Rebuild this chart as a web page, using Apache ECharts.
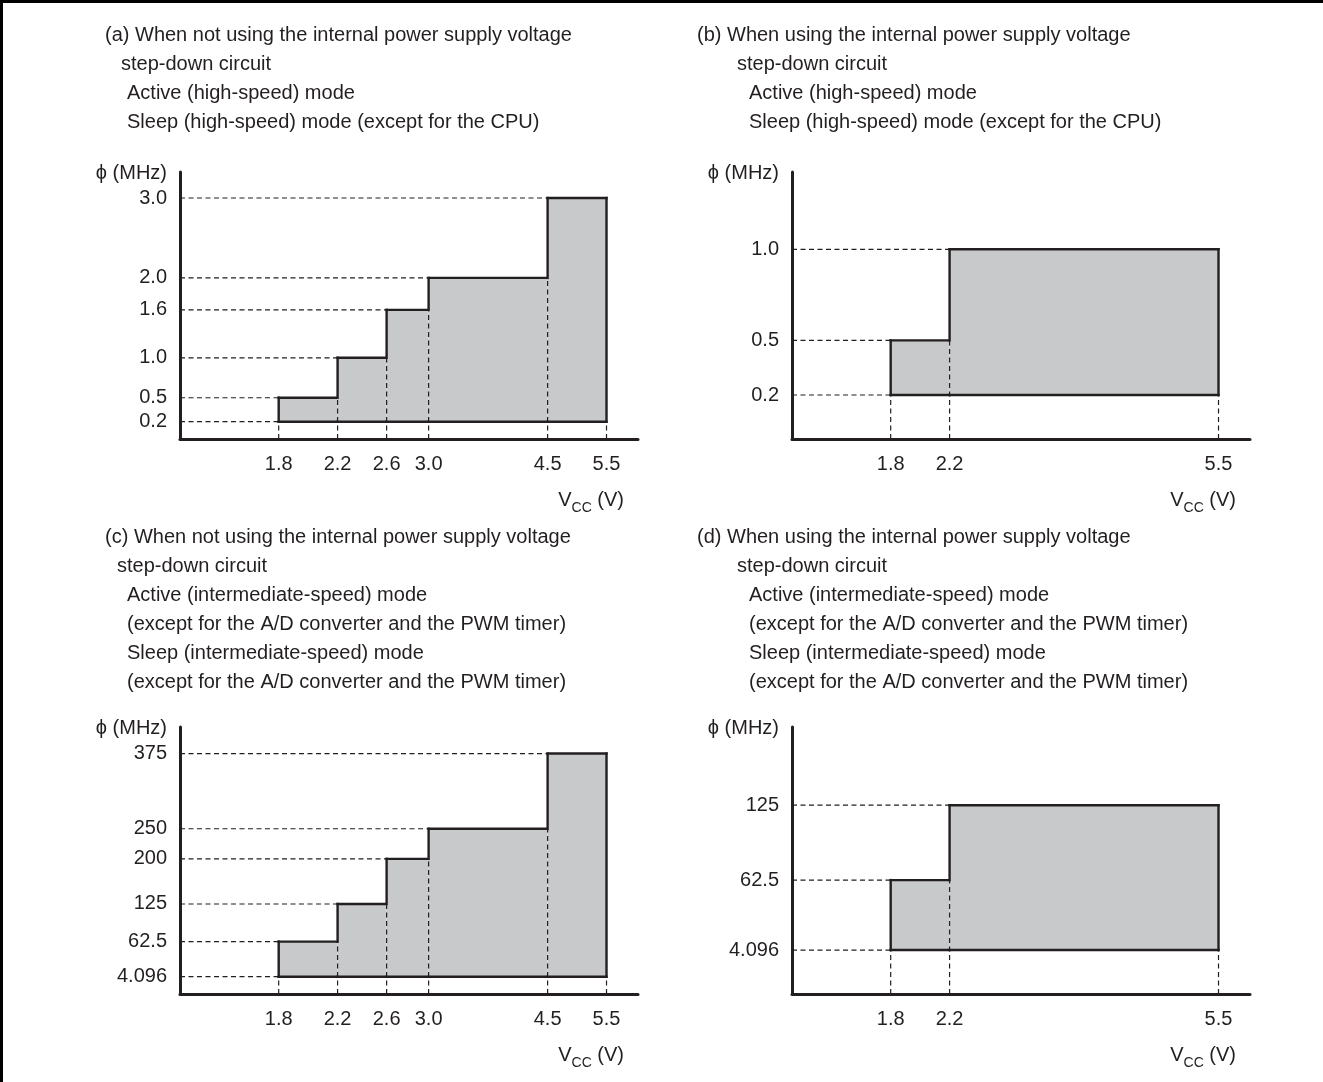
<!DOCTYPE html>
<html>
<head>
<meta charset="utf-8">
<script src="https://cdn.jsdelivr.net/npm/echarts@6/dist/echarts.min.js"></script>
<style>
html,body{margin:0;padding:0;background:#fff;}
#chart{width:1323px;height:1082px;}
</style>
</head>
<body>
<div id="chart"></div>
<script>
// ---------------- data ----------------
const voltsNoReg = [1.8, 2.2, 2.6, 3.0, 4.5, 5.5];   // V_CC breakpoints, panels (a) and (c)
const voltsReg   = [1.8, 2.2, 5.5];                  // V_CC breakpoints, panels (b) and (d)
const freqA = [0.5, 1.0, 1.6, 2.0, 3.0];             // MHz, upper limit per voltage range
const baseA = 0.2;                                   // MHz, lower limit
const freqB = [0.5, 1.0];
const baseB = 0.2;
const freqC = [62.5, 125, 200, 250, 375];
const baseC = 4.096;
const freqD = [62.5, 125];
const baseD = 4.096;
const xTicksNoReg = ['1.8', '2.2', '2.6', '3.0', '4.5', '5.5'];
const xTicksReg   = ['1.8', '2.2', '5.5'];
const yTicksA = ['0.2', '0.5', '1.0', '1.6', '2.0', '3.0'];
const yTicksB = ['0.2', '0.5', '1.0'];
const yTicksC = ['4.096', '62.5', '125', '200', '250', '375'];
const yTicksD = ['4.096', '62.5', '125'];

const headA = ['(a) When not using the internal power supply voltage', 'step-down circuit',
  'Active (high-speed) mode', 'Sleep (high-speed) mode (except for the CPU)'];
const headB = ['(b) When using the internal power supply voltage', 'step-down circuit',
  'Active (high-speed) mode', 'Sleep (high-speed) mode (except for the CPU)'];
const headC = ['(c) When not using the internal power supply voltage', 'step-down circuit',
  'Active (intermediate-speed) mode', '(except for the A/D converter and the PWM timer)',
  'Sleep (intermediate-speed) mode', '(except for the A/D converter and the PWM timer)'];
const headD = ['(d) When using the internal power supply voltage', 'step-down circuit',
  'Active (intermediate-speed) mode', '(except for the A/D converter and the PWM timer)',
  'Sleep (intermediate-speed) mode', '(except for the A/D converter and the PWM timer)'];

// ---------------- style ----------------
const INK = '#231f20';
const FILL = '#c8c9cb';
const FONT = '"Liberation Sans", Arial, Helvetica, sans-serif';
const FS = 20;

// layout per panel (grid rect, axis ranges)
const panels = [
  { volts: voltsNoReg, freq: freqA, base: baseA, xt: xTicksNoReg, yt: yTicksA,
    grid: { left: 180, top: 172, width: 458, height: 267 }, ymin: -0.0165, ymax: 3.3254,
    head: headA, headX: [105, 121, 127, 127], headY: 25 },
  { volts: voltsReg, freq: freqB, base: baseB, xt: xTicksReg, yt: yTicksB,
    grid: { left: 792, top: 172, width: 458, height: 267 }, ymin: -0.0416, ymax: 1.4244,
    head: headB, headX: [697, 737, 749, 749], headY: 25 },
  { volts: voltsNoReg, freq: freqC, base: baseC, xt: xTicksNoReg, yt: yTicksC,
    grid: { left: 180, top: 727, width: 458, height: 267 }, ymin: -24.63, ymax: 419.16,
    head: headC, headX: [105, 117, 127, 127, 127, 127], headY: 527 },
  { volts: voltsReg, freq: freqD, base: baseD, xt: xTicksReg, yt: yTicksD,
    grid: { left: 792, top: 727, width: 458, height: 267 }, ymin: -32.59, ymax: 190.29,
    head: headD, headX: [697, 737, 749, 749, 749, 749], headY: 527 }
];
const XMIN = 1.286, XMAX = 6.123;
const LINE_GAP = 29;

function stepRenderer(p) {
  return function (params, api) {
    const i = params.dataIndex;
    const n = p.freq.length;
    const v0 = api.value(0), v1 = api.value(1), f = api.value(2);
    const prev = i > 0 ? p.freq[i - 1] : p.base;
    const cs = params.coordSys;
    const L = cs.x, B = cs.y + cs.height;
    const tl = api.coord([v0, f]);
    const br = api.coord([v1, p.base]);
    const pv = api.coord([v0, prev]);
    const dash = { stroke: INK, lineWidth: 1.2, lineDash: [5, 3.5] };
    const solid = { stroke: INK, lineWidth: 2.4, lineCap: 'square' };
    const ch = [];
    ch.push({ type: 'rect', shape: { x: tl[0], y: tl[1], width: br[0] - tl[0], height: br[1] - tl[1] },
      style: { fill: FILL } });
    ch.push({ type: 'line', shape: { x1: L, y1: tl[1], x2: tl[0], y2: tl[1] }, style: dash });
    if (i === 0) {
      ch.push({ type: 'line', shape: { x1: L, y1: br[1], x2: tl[0], y2: br[1] }, style: dash });
    }
    ch.push({ type: 'line', shape: { x1: tl[0], y1: B, x2: tl[0], y2: pv[1] }, style: dash });
    if (i === n - 1) {
      ch.push({ type: 'line', shape: { x1: br[0], y1: B, x2: br[0], y2: br[1] }, style: dash });
    }
    ch.push({ type: 'line', shape: { x1: tl[0], y1: tl[1], x2: br[0], y2: tl[1] }, style: solid });
    ch.push({ type: 'line', shape: { x1: tl[0], y1: br[1], x2: br[0], y2: br[1] }, style: solid });
    ch.push({ type: 'line', shape: { x1: tl[0], y1: tl[1], x2: tl[0], y2: pv[1] }, style: solid });
    if (i === n - 1) {
      ch.push({ type: 'line', shape: { x1: br[0], y1: tl[1], x2: br[0], y2: br[1] }, style: solid });
    }
    return { type: 'group', children: ch };
  };
}

function xLabelRenderer(p) {
  return function (params, api) {
    const cs = params.coordSys;
    const pt = api.coord([api.value(0), api.value(1)]);
    return { type: 'text', x: pt[0], y: cs.y + cs.height + 15,
      style: { text: p.xt[params.dataIndex], fill: INK, font: FS + 'px ' + FONT,
        align: 'center', verticalAlign: 'top' } };
  };
}

const option = {
  animation: false,
  backgroundColor: '#fff',
  grid: [], xAxis: [], yAxis: [], series: [], title: [],
  graphic: [
    { type: 'line', shape: { x1: 0, y1: 1.5, x2: 1323, y2: 1.5 }, style: { stroke: '#000', lineWidth: 3 } },
    { type: 'line', shape: { x1: 1.5, y1: 0, x2: 1.5, y2: 1082 }, style: { stroke: '#000', lineWidth: 3 } }
  ]
};

panels.forEach((p, k) => {
  option.grid.push(Object.assign({ containLabel: false }, p.grid));
  option.xAxis.push({
    gridIndex: k, type: 'log', logBase: 10, min: XMIN, max: XMAX,
    axisLine: { show: true, onZero: false, lineStyle: { color: INK, width: 3 } },
    axisTick: { show: false }, axisLabel: { show: false }, splitLine: { show: false }
  });
  const yVals = p.yt.map(Number);
  option.yAxis.push({
    gridIndex: k, type: 'value', min: p.ymin, max: p.ymax,
    axisLine: { show: true, onZero: false, lineStyle: { color: INK, width: 3 } },
    axisTick: { show: false }, splitLine: { show: false },
    axisLabel: {
      customValues: yVals, margin: 13, color: INK, fontSize: FS, fontFamily: FONT,
      formatter: v => { const j = yVals.findIndex(t => Math.abs(t - v) < 1e-6); return j >= 0 ? p.yt[j] : ''; }
    }
  });
  option.series.push({
    type: 'custom', xAxisIndex: k, yAxisIndex: k, clip: false, silent: true,
    renderItem: stepRenderer(p),
    encode: { x: [0, 1], y: 2 },
    data: p.freq.map((f, i) => [p.volts[i], p.volts[i + 1], f])
  });
  option.series.push({
    type: 'custom', xAxisIndex: k, yAxisIndex: k, clip: false, silent: true,
    renderItem: xLabelRenderer(p),
    encode: { x: 0, y: 1 },
    data: p.xt.map(t => [Number(t), p.base])
  });
  // headings
  p.head.forEach((line, j) => {
    option.title.push({ text: line, left: p.headX[j], top: p.headY + j * LINE_GAP, padding: 0,
      textStyle: { color: INK, fontSize: FS, fontWeight: 'normal', fontFamily: FONT } });
  });
  // axis names
  const g = p.grid;
  option.title.push({ text: 'ϕ (MHz)', right: 1323 - (g.left - 13), top: g.top - 9, padding: 0,
    textStyle: { color: INK, fontSize: FS, fontWeight: 'normal', fontFamily: FONT } });
  option.title.push({ text: '{a|V}{s|CC}{a| (V)}', right: 1323 - (g.left + g.width - 14), top: g.top + g.height + 45, padding: 0,
    textStyle: { color: INK, fontSize: FS, fontWeight: 'normal', fontFamily: FONT,
      rich: { a: { fontSize: FS, fontFamily: FONT, color: INK, lineHeight: 26, verticalAlign: 'bottom' },
              s: { fontSize: 14, fontFamily: FONT, color: INK, lineHeight: 26, verticalAlign: 'bottom', padding: [0, 0, -5, 0] } } } });
});

const chart = echarts.init(document.getElementById('chart'), null, { renderer: 'canvas' });
chart.setOption(option);
</script>
</body>
</html>
